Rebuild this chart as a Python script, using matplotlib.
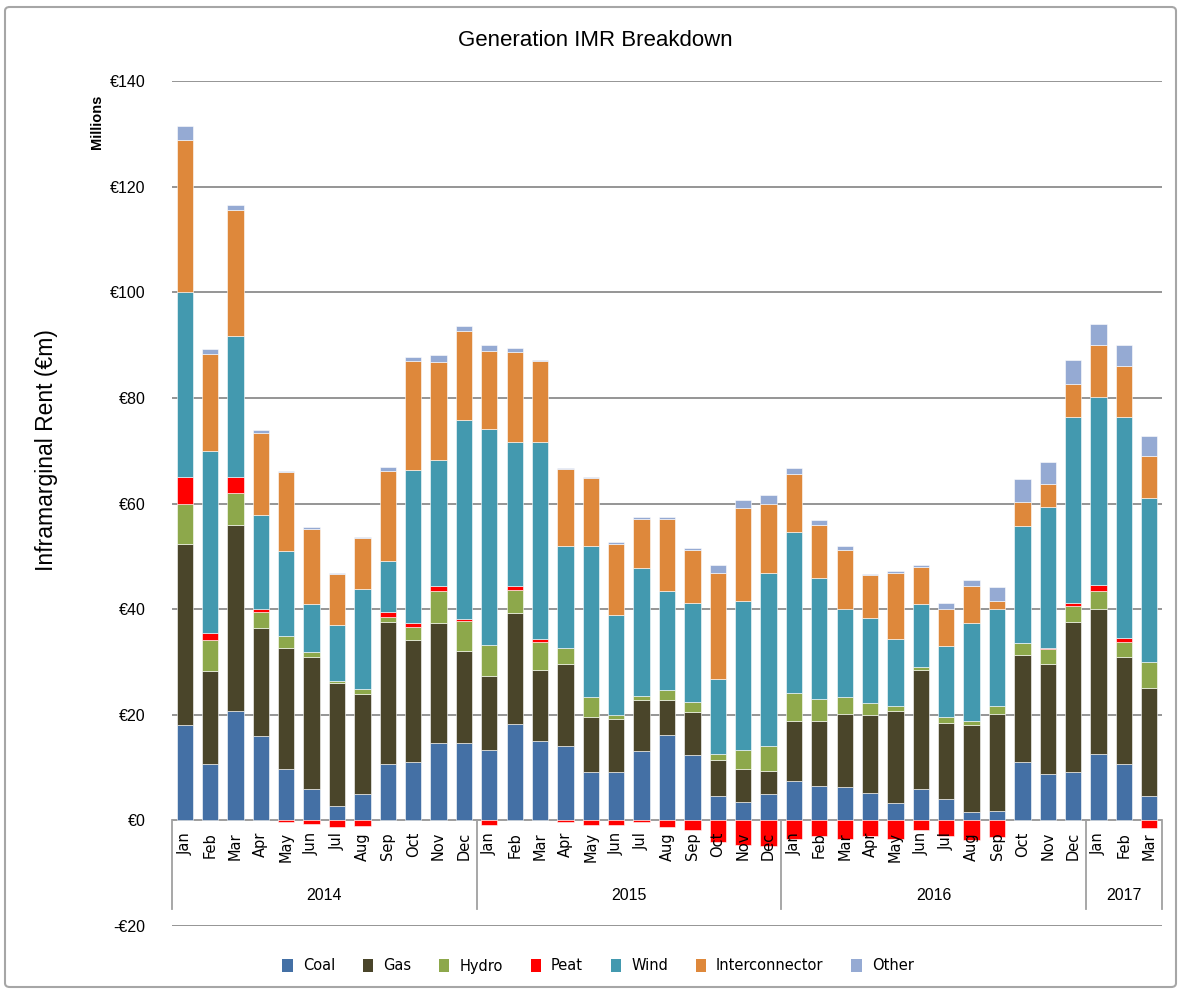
import matplotlib
matplotlib.use("Agg")
import matplotlib.pyplot as plt
import numpy as np
from matplotlib.patches import FancyBboxPatch, Patch

months = ["Jan", "Feb", "Mar", "Apr", "May", "Jun", "Jul", "Aug", "Sep", "Oct", "Nov", "Dec"] * 3 + ["Jan", "Feb", "Mar"]
years = ["2014", "2015", "2016", "2017"]
year_counts = [12, 12, 12, 3]

coal = [18.0, 10.6, 20.8, 16.0, 9.7, 6.0, 2.8, 4.9, 10.6, 11.1, 14.6, 14.6,
        13.4, 18.2, 15.1, 14.0, 9.1, 9.1, 13.1, 16.2, 12.3, 4.6, 3.4, 4.9,
        7.4, 6.6, 6.3, 5.2, 3.2, 6.0, 4.0, 1.5, 1.8, 11.1, 8.8, 9.2,
        12.5, 10.6, 4.6]
gas = [34.4, 17.6, 35.2, 20.4, 23.0, 25.0, 23.2, 19.1, 27.0, 23.1, 22.7, 17.5,
       13.9, 21.0, 13.3, 15.6, 10.5, 10.1, 9.7, 6.6, 8.2, 6.8, 6.3, 4.5,
       11.4, 12.2, 13.9, 14.7, 17.6, 22.4, 14.5, 16.5, 18.4, 20.2, 20.8, 28.3,
       27.5, 20.4, 20.4]
hydro = [7.6, 6.0, 5.9, 3.1, 2.2, 0.8, 0.3, 0.8, 0.9, 2.4, 6.2, 5.7,
         5.9, 4.5, 5.4, 3.1, 3.7, 0.7, 0.8, 1.9, 1.9, 1.1, 3.7, 4.6,
         5.3, 4.2, 3.1, 2.3, 0.8, 0.6, 1.1, 0.8, 1.4, 2.2, 2.8, 3.1,
         3.5, 2.8, 4.9]
peat = [5.1, 1.3, 3.1, 0.6, -0.4, -0.6, -1.3, -1.0, 1.0, 0.7, 0.8, 0.4,
        -0.9, 0.7, 0.6, -0.3, -0.9, -0.9, -0.3, -1.3, -1.8, -4.0, -4.7, -4.9,
        -3.5, -2.9, -3.5, -2.9, -3.5, -1.8, -2.9, -3.7, -3.2, 0.0, 0.3, 0.6,
        1.1, 0.8, -1.5]
wind = [35.0, 34.4, 26.7, 17.8, 16.2, 9.1, 10.7, 19.0, 9.7, 29.1, 23.9, 37.6,
        40.9, 27.2, 37.2, 19.3, 28.7, 19.0, 24.1, 18.8, 18.8, 14.2, 28.1, 32.9,
        30.5, 22.8, 16.8, 16.2, 12.8, 12.0, 13.4, 18.5, 18.5, 22.2, 26.7, 35.2,
        35.5, 41.8, 31.2]
interconnector = [28.8, 18.4, 23.9, 15.5, 14.9, 14.3, 9.7, 9.6, 17.0, 20.6, 18.5, 16.8,
                  14.8, 17.0, 15.4, 14.6, 12.9, 13.5, 9.4, 13.6, 10.0, 20.2, 17.6, 13.0,
                  11.0, 10.2, 11.1, 8.0, 12.5, 7.0, 7.1, 7.1, 1.4, 4.5, 4.3, 6.3,
                  9.9, 9.7, 7.9]
other = [2.6, 0.9, 1.0, 0.5, 0.2, 0.3, 0.2, 0.3, 0.8, 0.7, 1.4, 1.1,
         1.1, 0.8, 0.2, 0.2, 0.2, 0.3, 0.3, 0.3, 0.3, 1.4, 1.6, 1.7,
         1.2, 0.8, 0.8, 0.2, 0.3, 0.3, 1.1, 1.1, 2.6, 4.5, 4.1, 4.5,
         3.9, 3.9, 3.7]

series_names = ["Coal", "Gas", "Hydro", "Peat", "Wind", "Interconnector", "Other"]
series_values = [coal, gas, hydro, peat, wind, interconnector, other]
colors = ["#4470A5", "#4A452A", "#8DA84B", "#FF0000", "#4399AF", "#DE883B", "#95AAD3"]

y_ticks = [-20, 0, 20, 40, 60, 80, 100, 120, 140]
y_tick_labels = ["-€20", "€0", "€20", "€40", "€60", "€80", "€100", "€120", "€140"]

W, H = 1181, 992
fig = plt.figure(figsize=(W / 100, H / 100), dpi=100)
fig.patch.set_facecolor("white")

# outer chart border
border = FancyBboxPatch((5 / W, 5 / H), 1 - 10 / W, 1 - 12 / H,
                        boxstyle="round,pad=0,rounding_size=0.004",
                        transform=fig.transFigure, fill=False,
                        edgecolor="#A6A6A6", linewidth=1.5)
fig.patches.append(border)

ax = fig.add_axes([172 / W, (H - 926) / H, (1162 - 172) / W, (926 - 81) / H])
n = len(months)
x = np.arange(n)
pos_bottom = np.zeros(n)
neg_bottom = np.zeros(n)
bar_w = 0.64
for name, vals, col in zip(series_names, series_values, colors):
    v = np.array(vals, dtype=float)
    bottom = np.where(v >= 0, pos_bottom, neg_bottom)
    ax.bar(x, v, bar_w, bottom=bottom, color=col, edgecolor="white",
           linewidth=0.4, zorder=3, label=name)
    pos_bottom = pos_bottom + np.where(v > 0, v, 0)
    neg_bottom = neg_bottom + np.where(v < 0, v, 0)

ax.set_xlim(-0.5, n - 0.5)
ax.set_ylim(-20, 140)
ax.set_yticks(y_ticks)
ax.set_yticklabels(y_tick_labels, family=["Liberation Sans", "DejaVu Sans"], fontsize=11.5)
ax.tick_params(axis="y", length=0, pad=19)
ax.set_xticks([])
for s in ax.spines.values():
    s.set_visible(False)
ax.grid(axis="y", color="#8C8C8C", linewidth=1.3, zorder=0)
ax.set_axisbelow(True)

# category frame lines
frame_col = "#A0A0A0"
bottom_y = -16.7
bounds = [-0.5]
acc = -0.5
for c in year_counts:
    acc += c
    bounds.append(acc)
for b in bounds:
    ax.plot([b, b], [0, bottom_y], color=frame_col, linewidth=1.3, zorder=2, clip_on=False)
ax.axhline(0, color=frame_col, linewidth=1.3, zorder=2)

for i, m in enumerate(months):
    ax.text(i, -2.2, m, rotation=90, ha="center", va="top", fontsize=10.5,
            family="DejaVu Sans", color="black", zorder=4)
start = -0.5
for yr, c in zip(years, year_counts):
    ax.text(start + c / 2, -14.2, yr, ha="center", va="center", fontsize=11.5,
            family=["Liberation Sans", "DejaVu Sans"], zorder=4)
    start += c

fig.text(595 / W, 1 - 40 / H, "Generation IMR Breakdown", ha="center", va="center",
         fontsize=16, family=["Liberation Sans", "DejaVu Sans"])
fig.text(47 / W, 1 - 450 / H, "Inframarginal Rent (€m)", rotation=90, ha="center",
         va="center", fontsize=16.5, family=["Liberation Sans", "DejaVu Sans"])
fig.text(97 / W, 1 - 122 / H, "Millions", rotation=90, ha="center", va="center",
         fontsize=10.5, fontweight="bold", family=["Liberation Sans", "DejaVu Sans"])

handles = [Patch(facecolor=c, edgecolor="none") for c in colors]
fig.legend(handles, series_names, loc="center", bbox_to_anchor=(598 / W, 1 - 966 / H),
           ncol=7, frameon=False, handlelength=0.7, handleheight=0.9,
           handletextpad=0.7, columnspacing=1.9, prop={"family": "DejaVu Sans", "size": 10.5})

fig.savefig("out.png", dpi=100, facecolor="white")
